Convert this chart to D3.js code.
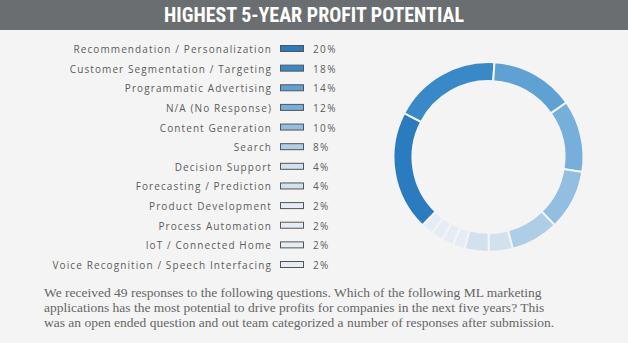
<!DOCTYPE html>
<html><head><meta charset="utf-8">
<script src="https://cdn.jsdelivr.net/npm/d3@7"></script>
<style>
html,body{margin:0;padding:0;background:#f4f4f4;}
svg{display:block;}
</style></head>
<body>
<svg id="c" width="628" height="343"></svg>
<script>
const title = "HIGHEST 5-YEAR PROFIT POTENTIAL";
const categories = ["Recommendation / Personalization","Customer Segmentation / Targeting","Programmatic Advertising","N/A (No Response)","Content Generation","Search","Decision Support","Forecasting / Prediction","Product Development","Process Automation","IoT / Connected Home","Voice Recognition / Speech Interfacing"];
const counts = [10,9,7,6,5,4,2,2,1,1,1,1];
const percentLabels = ["20%","18%","14%","12%","10%","8%","4%","4%","2%","2%","2%","2%"];
const colors = ["#2a7cbf","#3989c9","#5fa1d3","#76afda","#92bfe1","#aecde7","#d2e1ee","#d2e1ee","#e5ecf4","#e5ecf4","#e5ecf4","#e5ecf4"];
const footer = ["We received 49 responses to the following questions. Which of the following ML marketing",
"applications has the most potential to drive profits for companies in the next five years? This",
"was an open ended question and out team categorized a number of responses after submission."];

const svg = d3.select("#c");
svg.append("rect").attr("width",628).attr("height",343).attr("fill","#f4f4f4");
svg.append("rect").attr("width",628).attr("height",30).attr("fill","#6b6e70");
svg.append("text").attr("x",314).attr("y",22).attr("text-anchor","middle")
  .attr("fill","#fff").style("font-family","'Liberation Sans Narrow','Roboto Condensed',sans-serif")
  .style("font-size","20px").style("font-weight","bold").style("font-stretch","condensed").text(title);

// legend
const y = d3.scalePoint().domain(categories).range([49,265]);
const lg = svg.append("g");
const rows = lg.selectAll("g").data(categories).join("g").attr("transform",d=>`translate(0,${y(d)})`);
rows.append("text").attr("x",272).attr("y",4).attr("text-anchor","end")
  .attr("fill","#5c5c5c").style("font-family","'Open Sans',sans-serif").style("font-size","10px")
  .style("letter-spacing","1.1px").text(d=>d);
rows.append("rect").attr("x",280.5).attr("y",-3.5).attr("width",23).attr("height",6)
  .attr("fill",(d,i)=>colors[i]).attr("stroke","#555").attr("stroke-width",1);
rows.append("text").attr("x",313).attr("y",4).attr("fill","#5c5c5c")
  .style("font-family","'Open Sans',sans-serif").style("font-size","10px").style("letter-spacing","1.4px")
  .text((d,i)=>percentLabels[i]);

// donut
const start = 224*Math.PI/180;
const pie = d3.pie().sort(null).value(d=>d).startAngle(start).endAngle(start+2*Math.PI);
const arc = d3.arc().innerRadius(76).outerRadius(95);
const g = svg.append("g").attr("transform","translate(488.5,157)");
g.selectAll("path").data(pie(counts)).join("path").attr("d",arc)
  .attr("fill",(d,i)=>colors[i]).attr("stroke","#f4f4f4").attr("stroke-width",2);

// footer
const ft = svg.append("text").attr("fill","#666")
  .style("font-family","'Liberation Serif',serif").style("font-size","13.5px");
footer.forEach((l,i)=>ft.append("tspan").attr("x",44).attr("y",297+i*15).text(l));
</script>
</body></html>
